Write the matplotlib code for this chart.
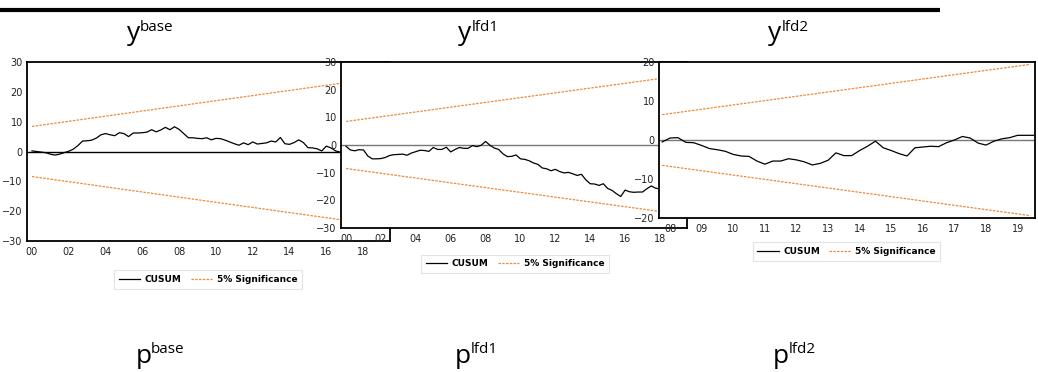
import numpy as np
import matplotlib
matplotlib.use("Agg")
import matplotlib.pyplot as plt
from matplotlib.lines import Line2D

# CUSUM values, quarterly
base_start = 2000.0
base_cusum = [0.2, 0.0, -0.2, -0.4, -0.9, -1.2, -0.9, -0.4,
              0.1, 0.8, 2.0, 3.5, 3.6, 3.8, 4.5, 5.6,
              6.0, 5.6, 5.3, 6.3, 6.0, 5.0, 6.2, 6.2,
              6.3, 6.5, 7.3, 6.6, 7.2, 8.1, 7.3, 8.3,
              7.4, 6.0, 4.6, 4.6, 4.4, 4.3, 4.6, 3.9,
              4.4, 4.3, 3.8, 3.2, 2.6, 2.1, 2.9, 2.3,
              3.2, 2.5, 2.7, 2.9, 3.5, 3.2, 4.7, 2.6,
              2.4, 3.0, 3.9, 3.0, 1.3, 1.2, 0.9, 0.2,
              1.8, 1.2, 0.2, -0.2, 0.0]
base_band = [8.4, 25.0]          # at band_years
base_band_years = [2000.0, 2019.25]

lfd1_start = 2000.0
lfd1_cusum = [-0.5, -1.8, -2.1, -1.7, -1.8, -4.0, -5.0, -5.0,
              -4.9, -4.5, -3.8, -3.5, -3.4, -3.3, -3.7, -2.9,
              -2.4, -1.9, -2.0, -2.3, -0.9, -1.6, -1.6, -0.8,
              -2.5, -1.6, -0.9, -1.2, -1.2, -0.2, -0.6, -0.1,
              1.3, -0.1, -1.1, -1.6, -3.2, -4.2, -4.1, -3.6,
              -5.0, -5.2, -5.7, -6.5, -7.0, -8.3, -8.6, -9.3,
              -8.8, -9.6, -10.1, -9.9, -10.4, -11.0, -10.6, -12.6,
              -14.0, -14.1, -14.6, -14.0, -15.7, -16.4, -17.6, -18.6,
              -16.3, -16.9, -17.1, -17.0, -17.0, -15.8, -14.8, -15.6, -15.9]
lfd1_band = [8.5, 25.1]
lfd1_band_years = [2000.0, 2019.25]

lfd2_start = 2007.75
lfd2_cusum = [-0.5, 0.5, 0.6, -0.6, -0.7, -1.4, -2.2, -2.5,
              -2.9, -3.7, -4.1, -4.2, -5.4, -6.2, -5.4, -5.4,
              -4.8, -5.1, -5.6, -6.4, -6.0, -5.2, -3.3, -4.0,
              -4.0, -2.7, -1.6, -0.3, -2.0, -2.7, -3.5, -4.1,
              -2.0, -1.8, -1.6, -1.7, -0.7, 0.0, 0.9, 0.5,
              -0.8, -1.3, -0.3, 0.3, 0.6, 1.2, 1.2, 1.2]
lfd2_band = [6.5, 19.4]
lfd2_band_years = [2007.75, 2019.4]

top_titles = ["base", "lfd1", "lfd2"]
bottom_titles = ["base", "lfd1", "lfd2"]

W, H = 1038, 372
ORANGE = "#ee8a3a"

fig = plt.figure(figsize=(W / 100, H / 100), dpi=100)
fig.patch.set_facecolor("white")


def px_axes(x0, y0, x1, y1):
    return fig.add_axes([x0 / W, 1 - y1 / H, (x1 - x0) / W, (y1 - y0) / H])


def panel(box, start, cusum, band, band_years, xlim, ylim, yticks, xticks,
          zero_color):
    ax = px_axes(*box)
    ax.set_facecolor("white")
    yrs = start + 0.25 * np.arange(len(cusum))
    ax.axhline(0, color=zero_color, lw=1.0, zorder=1)
    ax.plot(yrs, cusum, color="black", lw=0.9, zorder=3)
    ax.plot(band_years, band, color=ORANGE, lw=0.9, ls=(0, (2, 1)), zorder=2)
    ax.plot(band_years, [-b for b in band], color=ORANGE, lw=0.9,
            ls=(0, (2, 1)), zorder=2)
    ax.set_xlim(*xlim)
    ax.set_ylim(*ylim)
    ax.set_yticks(yticks)
    ax.set_xticks(xticks)
    ax.set_xticklabels(["%02d" % (t % 100) for t in xticks])
    ax.tick_params(length=0, labelsize=7, colors="#222222")
    ax.tick_params(axis="x", pad=4)
    ax.tick_params(axis="y", pad=3)
    for s in ax.spines.values():
        s.set_linewidth(1.3)
        s.set_color("black")
    return ax


panel((27, 62, 390, 241), base_start, base_cusum, base_band, base_band_years,
      (1999.73, 2019.46), (-30, 30), [-30, -20, -10, 0, 10, 20, 30],
      list(range(2000, 2019, 2)), "black")
panel((341, 62, 687, 228), lfd1_start, lfd1_cusum, lfd1_band, lfd1_band_years,
      (1999.71, 2019.55), (-30, 30), [-30, -20, -10, 0, 10, 20, 30],
      list(range(2000, 2019, 2)), "#777777")
panel((659, 62, 1035, 218), lfd2_start, lfd2_cusum, lfd2_band, lfd2_band_years,
      (2007.65, 2019.55), (-20, 20), [-20, -10, 0, 10, 20],
      list(range(2008, 2020)), "#777777")

# legends
handles = [Line2D([], [], color="black", lw=0.9),
           Line2D([], [], color=ORANGE, lw=0.9, ls=(0, (2, 1)))]
for (x0, y0, x1, y1) in [(116, 270, 300, 289), (427, 255, 603, 273),
                         (751, 242, 942, 261)]:
    leg = fig.legend(handles, ["CUSUM", "5% Significance"], loc="center",
                     bbox_to_anchor=((x0 + x1) / 2 / W, 1 - (y0 + y1) / 2 / H),
                     ncol=2, frameon=True, fancybox=False,
                     prop={"size": 6.5, "weight": "bold"},
                     handlelength=2.4, handletextpad=0.5,
                     columnspacing=1.0, borderpad=0.5)
    leg.get_frame().set_edgecolor("#dddddd")
    leg.get_frame().set_linewidth(0.8)

# titles
for sup, xy, xs in zip(top_titles, [127, 458, 768], [140, 472, 782]):
    fig.text(xy / W, 1 - 40 / H, "y", fontsize=19, family="Open Sans",
             va="baseline", ha="left")
    fig.text(xs / W, 1 - 31 / H, sup, fontsize=11, family="Open Sans",
             va="baseline", ha="left")
for sup, xp, xs in zip(bottom_titles, [136, 455, 773], [151, 471, 789]):
    fig.text(xp / W, 1 - 363 / H, "p", fontsize=19, family="Open Sans",
             va="baseline", ha="left")
    fig.text(xs / W, 1 - 353 / H, sup, fontsize=11, family="Open Sans",
             va="baseline", ha="left")

# heavy rule at top of the page
fig.add_artist(Line2D([0, 940 / W], [1 - 10 / H, 1 - 10 / H], lw=3,
                      color="black", solid_capstyle="butt"))

fig.savefig("out.png", dpi=100)
